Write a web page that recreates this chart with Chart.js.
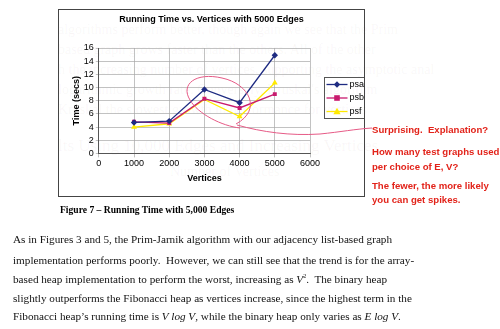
<!DOCTYPE html>
<html>
<head>
<meta charset="utf-8">
<script src="https://cdn.jsdelivr.net/npm/chart.js@4"></script>
<style>
  body { margin: 0; background: #fff; width: 500px; height: 329px; overflow: hidden; position: relative; font-family: "Liberation Serif", "DejaVu Serif", serif; }
  .ghost { position: absolute; color: rgba(150, 110, 110, 0.06); font-size: 14px; white-space: nowrap; }
  #frame { position: absolute; left: 58px; top: 9px; width: 305px; height: 186px; border: 1px solid #444; }
  #chart { position: absolute; left: 0; top: 0; }
  .note { position: absolute; color: #E2231A; font: bold 9.6px "Liberation Sans", Arial, sans-serif; white-space: nowrap; }
  .caption { position: absolute; left: 60px; top: 204px; font: bold 9.6px "Liberation Serif", serif; }
  .body { position: absolute; left: 13px; font-size: 11.2px; white-space: nowrap; color: #111; }
  svg { position: absolute; left: 0; top: 0; }
</style>
</head>
<body>
<!-- show-through from the other side of the scanned page -->
<div class="ghost" style="left:58px;top:22px">algorithms perform better, though again we see that the Prim</div>
<div class="ghost" style="left:58px;top:42px">based graph grows faster than the others.  All of the other</div>
<div class="ghost" style="left:58px;top:62px">h the increasing number of vertices, supporting the asymptotic anal</div>
<div class="ghost" style="left:58px;top:82px">logarithmic growth rate.  Conversely, Kruskal's algorithm</div>
<div class="ghost" style="left:58px;top:102px">Kruskal the slowest growth in performance for vertices</div>
<div class="ghost" style="left:58px;top:136px;font-size:17px">lts Using 10,000 Edges and Increasing Vertices</div>
<div class="ghost" style="left:170px;top:164px">Number of Vertices</div>

<div id="frame"><canvas id="chart" width="305" height="186"></canvas></div>

<svg width="500" height="329">
  <path d="M 236 124 C 262 110, 250 84, 222 78 C 196 72, 180 84, 190 100 C 198 114, 222 126, 240 128"
        fill="none" stroke="#E65A86" stroke-width="1"/>
  <path d="M 237 125 C 262 132, 290 136, 320 134 C 340 132, 356 129, 372 128"
        fill="none" stroke="#E65A86" stroke-width="1"/>
</svg>

<div class="note" style="left:372px;top:124px">Surprising.&nbsp; Explanation?</div>
<div class="note" style="left:372px;top:146px">How many test graphs used</div>
<div class="note" style="left:372px;top:161px">per choice of E, V?</div>
<div class="note" style="left:372px;top:180px">The fewer, the more likely</div>
<div class="note" style="left:372px;top:194px">you can get spikes.</div>

<div class="caption">Figure 7 – Running Time with 5,000 Edges</div>

<div class="body" style="top:233px">As in Figures 3 and 5, the Prim-Jarnik algorithm with our adjacency list-based graph</div>
<div class="body" style="top:254px">implementation performs poorly.&nbsp; However, we can still see that the trend is for the array-</div>
<div class="body" style="top:273px">based heap implementation to perform the worst, increasing as <i>V</i><sup style="font-size:6px">2</sup>.&nbsp; The binary heap</div>
<div class="body" style="top:292px">slightly outperforms the Fibonacci heap as vertices increase, since the highest term in the</div>
<div class="body" style="top:310px">Fibonacci heap’s running time is <i>V log V</i>, while the binary heap only varies as <i>E log V</i>.</div>

<script>
// Running Time vs. Vertices with 5000 Edges

const chartTitle = "Running Time vs. Vertices with 5000 Edges";
const vertices = [1000, 2000, 3000, 4000, 5000];
const psaTimes = [4.7, 4.9, 9.7, 7.7, 14.9];
const psbTimes = [4.8, 4.6, 8.3, 6.9, 9.0];
const psfTimes = [4.0, 4.5, 8.2, 5.6, 10.7];

const colors = {
    psa: "#1E2B82",
    psb: "#C81A6E",
    psf: "#FFEA00",
    grid: "#A8A8A8"
};

const font = "'Liberation Sans', Arial, sans-serif";

function points(values) {
    return vertices.map((v, i) => ({ x: v, y: values[i] }));
}

const series = [
    { label: "psa", data: psaTimes, color: colors.psa, marker: "rectRot", radius: 3.2 },
    { label: "psb", data: psbTimes, color: colors.psb, marker: "rect", radius: 2.8 },
    { label: "psf", data: psfTimes, color: colors.psf, marker: "triangle", radius: 3.4 }
];

function drawMarker(g, style, x, y) {
    g.beginPath();
    if (style === "rectRot") {
        g.moveTo(x, y - 3.2); g.lineTo(x + 3.2, y); g.lineTo(x, y + 3.2); g.lineTo(x - 3.2, y);
    } else if (style === "rect") {
        g.rect(x - 2.8, y - 2.8, 5.6, 5.6);
    } else {
        g.moveTo(x, y - 3.8); g.lineTo(x + 3.6, y + 2.8); g.lineTo(x - 3.6, y + 2.8);
    }
    g.closePath();
    g.fill();
}

// excel style title (centred on the whole frame) and legend box right of the plot
const excelDecor = {
    id: "excelDecor",
    afterDraw(chart) {
        const area = chart.chartArea;
        const g = chart.ctx;
        g.save();
        g.fillStyle = "#000";
        g.font = "bold 9px " + font;
        g.textAlign = "center";
        g.textBaseline = "middle";
        g.fillText(chartTitle, chart.width / 2, 10);

        const left = Math.round(area.right) + 14.5;
        const mid = (area.top + area.bottom) / 2 - 4;
        const top = Math.round(mid - 20) + 0.5;
        g.strokeStyle = "#555";
        g.lineWidth = 1;
        g.strokeRect(left, top, 40, 41);
        g.font = "9px " + font;
        g.textAlign = "left";
        series.forEach((s, i) => {
            const y = top + 7 + i * 13.5;
            g.strokeStyle = s.color;
            g.fillStyle = s.color;
            g.lineWidth = 1.3;
            g.beginPath();
            g.moveTo(left + 2, y);
            g.lineTo(left + 23, y);
            g.stroke();
            drawMarker(g, s.marker, left + 12.5, y);
            g.fillStyle = "#000";
            g.fillText(s.label, left + 25, y);
        });
        g.restore();
    }
};

const ctx = document.getElementById("chart");

new Chart(ctx, {
    type: "line",
    data: {
        datasets: series.map(s => ({
            label: s.label,
            data: points(s.data),
            borderColor: s.color,
            backgroundColor: s.color,
            borderWidth: 1.3,
            pointStyle: s.marker,
            pointRadius: s.radius,
            pointBorderWidth: 0,
            tension: 0
        }))
    },
    options: {
        responsive: false,
        animation: false,
        layout: { padding: { left: 12, right: 54, top: 38, bottom: 12 } },
        plugins: {
            title: { display: false },
            legend: { display: false },
            tooltip: { enabled: false }
        },
        scales: {
            x: {
                type: "linear",
                min: 0,
                max: 6000,
                ticks: {
                    stepSize: 1000,
                    color: "#000",
                    font: { family: font, size: 9 },
                    padding: 1,
                    maxRotation: 0,
                    autoSkip: false,
                    callback: v => String(v)
                },
                grid: { color: colors.grid, lineWidth: 0.7, tickLength: 4 },
                border: { color: "#555" },
                title: {
                    display: true,
                    text: "Vertices",
                    color: "#000",
                    font: { family: font, size: 9, weight: "bold" },
                    padding: { top: 3, bottom: 0 }
                }
            },
            y: {
                min: 0,
                max: 16,
                ticks: {
                    stepSize: 2,
                    color: "#000",
                    font: { family: font, size: 9 },
                    padding: 2,
                    autoSkip: false
                },
                grid: { color: colors.grid, lineWidth: 0.7, tickLength: 3 },
                border: { color: "#555" },
                title: {
                    display: true,
                    text: "Time (secs)",
                    color: "#000",
                    font: { family: font, size: 9, weight: "bold" },
                    padding: { top: 0, bottom: 0 }
                }
            }
        }
    },
    plugins: [excelDecor]
});
</script>
</body>
</html>
